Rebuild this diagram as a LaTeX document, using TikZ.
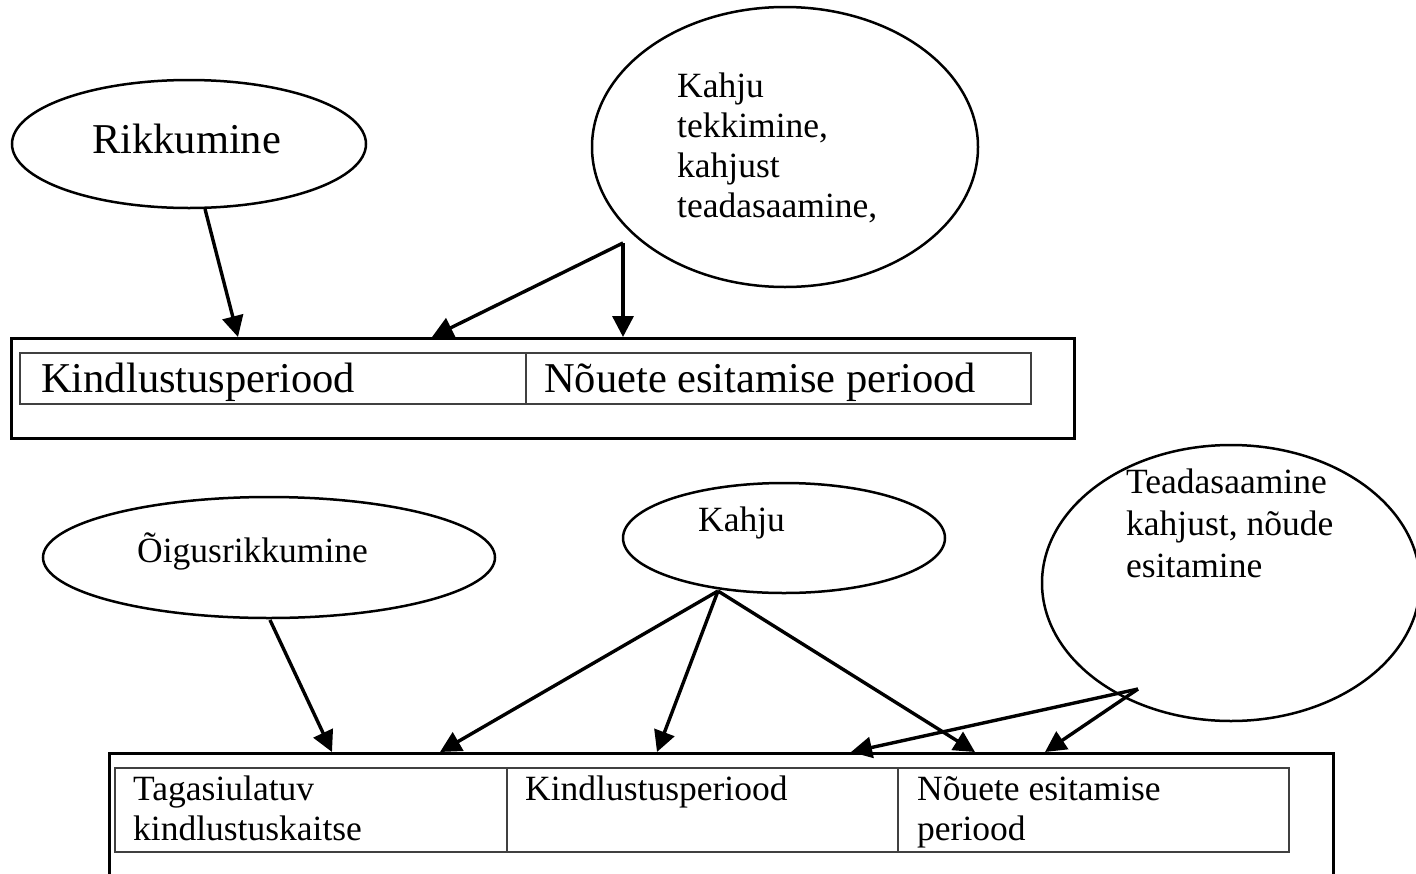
\documentclass[tikz,border=0pt]{standalone}
\usepackage{fontspec}
\setmainfont{Liberation Serif}
\usetikzlibrary{shapes.geometric,arrows.meta}
\begin{document}
\begin{tikzpicture}[x=1pt,y=-1pt,
  oval/.style={draw,ellipse,line width=2.5pt,inner sep=0pt},
  outerbox/.style={draw,line width=3pt},
  cell/.style={draw=black!75,line width=1.6pt},
  big/.style={font=\fontsize{42.5}{48}\selectfont,inner sep=0pt},
  small/.style={font=\fontsize{35.5}{40}\selectfont,inner sep=0pt,align=left},
  conn/.style={line width=3.4pt,-{Triangle[length=21pt,width=21pt]}}]
\useasboundingbox (0,0) rectangle (1416,873);
\begin{scope}
\clip (0,0) rectangle (1416,873);
% ---- upper diagram ----
\node[oval,minimum width=354pt,minimum height=128pt] (rik) at (189,144) {};
\node[big,anchor=base west] (rikt) at (92,153) {Rikkumine};
\node[oval,minimum width=386pt,minimum height=280pt] (kt) at (785,147) {};
\node[small,anchor=north west] (ktt) at (677,73) {Kahju\\tekkimine,\\kahjust\\teadasaamine,};
\coordinate (kv) at (623,243);
\coordinate (rs) at (205,209);

\node[outerbox,minimum width=1063pt,minimum height=100pt,anchor=north west] (box1) at (10,337) {};
\node[cell,minimum width=506pt,minimum height=51pt,anchor=north west] (c11) at (19,352) {};
\node[cell,minimum width=505pt,minimum height=51pt,anchor=north west] (c12) at (525,352) {};
\node[big,anchor=base west] (c11t) at (41,392) {Kindlustusperiood};
\node[big,anchor=base west] (c12t) at (544,392) {Nõuete esitamise periood};

\coordinate (a1) at (238,337);
\coordinate (a2) at (432,337);
\coordinate (a3) at (623,337);
\draw[conn] (rs) -- (a1);
\draw[conn] (kv) -- (a2);
\draw[conn] (kv) -- (a3);

% ---- lower diagram ----
\node[oval,minimum width=452pt,minimum height=121pt] (oig) at (269,557.5) {};
\node[small,anchor=base west] (oigt) at (137,562) {Õigusrikkumine};
\node[oval,minimum width=322pt,minimum height=110pt] (kl) at (784,538) {};
\node[small,anchor=base west] (klt) at (698,531) {Kahju};
\node[oval,minimum width=378pt,minimum height=276pt] (td) at (1231,583) {};
\node[small,anchor=north west,font=\fontsize{35.5}{42}\selectfont] (tdt) at (1126,469) {Teadasaamine\\kahjust, nõude\\esitamine};
\coordinate (os) at (270,620);
\coordinate (klv) at (718,591);
\coordinate (tdv) at (1138,689);

\node[outerbox,minimum width=1224pt,minimum height=160pt,anchor=north west] (box2) at (108,752) {};
\node[cell,minimum width=392pt,minimum height=84pt,anchor=north west] (c21) at (114,767) {};
\node[cell,minimum width=391pt,minimum height=84pt,anchor=north west] (c22) at (506,767) {};
\node[cell,minimum width=391pt,minimum height=84pt,anchor=north west] (c23) at (897,767) {};
\node[small,anchor=north west] (c21t) at (133,776) {Tagasiulatuv\\kindlustuskaitse};
\node[small,anchor=base west] (c22t) at (525,800) {Kindlustusperiood};
\node[small,anchor=north west] (c23t) at (917,776) {Nõuete esitamise\\periood};

\coordinate (b1) at (332,752);
\coordinate (b2) at (440,752);
\coordinate (b3) at (657,752);
\coordinate (b4) at (975,752);
\coordinate (b5) at (851,752);
\coordinate (b6) at (1045,752);
\draw[conn] (os) -- (b1);
\draw[conn] (klv) -- (b2);
\draw[conn] (klv) -- (b3);
\draw[conn] (klv) -- (b4);
\draw[conn] (tdv) -- (b5);
\draw[conn] (tdv) -- (b6);
\end{scope}
\end{tikzpicture}
\end{document}
